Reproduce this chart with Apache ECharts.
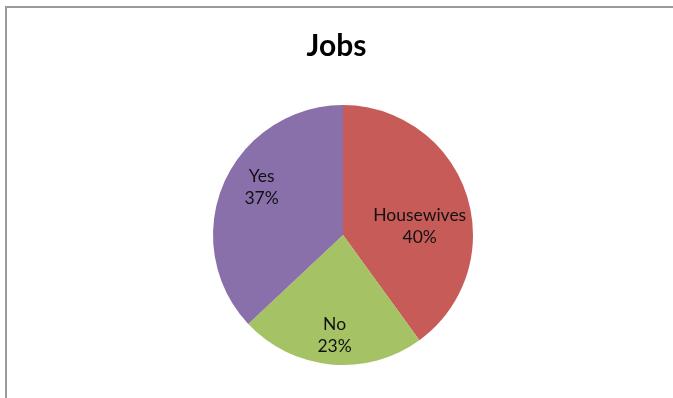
<!DOCTYPE html>
<html>
<head>
<meta charset="utf-8">
<script src="https://cdn.jsdelivr.net/npm/echarts@6/dist/echarts.min.js"></script>
<style>
  html, body { margin: 0; padding: 0; background: #fff; }
  #chart { width: 673px; height: 398px; }
</style>
</head>
<body>
<div id="chart"></div>
<script>
// Share of respondents by job situation
const categories = ['Housewives', 'No', 'Yes'];
const values = [40, 23, 37];
const colors = ['#C75B57', '#A5C264', '#8A70AB'];
// Nudges applied to each slice label relative to its default inside spot
const labelOffsets = [[12, 12], [-2, 33], [-19, -21]];

const chart = echarts.init(document.getElementById('chart'), null, { renderer: 'canvas' });

const option = {
  backgroundColor: '#fff',
  animation: false,
  title: {
    text: 'Jobs',
    left: 'center',
    top: 26,
    textStyle: { fontFamily: 'Lato', fontWeight: 'bold', fontSize: 30, color: '#000' }
  },
  graphic: [{
    // chart-area frame: only its top and left edges fall inside the view
    type: 'polyline',
    shape: { points: [[6, 420], [6, 7], [700, 7]] },
    style: { fill: null, stroke: '#9a9a9a', lineWidth: 2 },
    silent: true
  }],
  series: [{
    type: 'pie',
    center: [343, 235],
    radius: 130,
    startAngle: 90,
    clockwise: true,
    avoidLabelOverlap: false,
    itemStyle: { borderWidth: 0 },
    label: {
      show: true,
      position: 'inside',
      formatter: p => p.name + '\n' + p.value + '%',
      fontFamily: 'Lato',
      fontSize: 17.5,
      lineHeight: 22,
      color: '#111'
    },
    labelLine: { show: false },
    emphasis: { disabled: true },
    data: categories.map((name, i) => ({
      name: name,
      value: values[i],
      itemStyle: { color: colors[i] },
      label: { offset: labelOffsets[i] }
    }))
  }]
};

chart.setOption(option);
</script>
</body>
</html>
